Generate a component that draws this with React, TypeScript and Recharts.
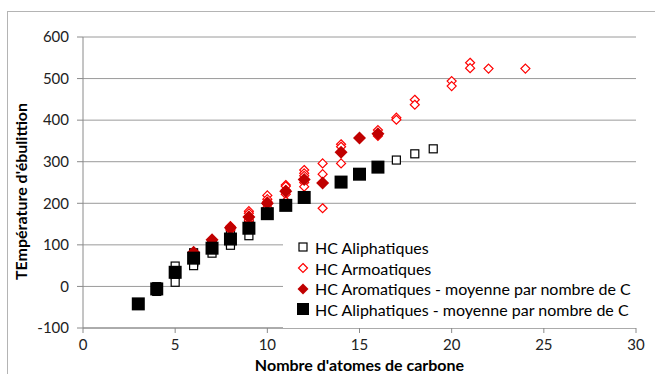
import React from 'react';
import { ScatterChart, Scatter, XAxis, YAxis, CartesianGrid, Legend, Label } from 'recharts';

const FONT = 'Lato, "Open Sans", sans-serif';

// Hydrocarbures aliphatiques : nombre de C / température d'ébullition (°C)
const aliphaticCarbons = [3, 4, 4, 5, 5, 5, 5, 6, 6, 6, 6, 6, 6, 6, 7, 7, 7, 7, 7, 8, 8, 8, 8, 9, 9, 9, 9, 10, 10, 11, 12, 12, 14, 14, 15, 16, 17, 18, 19];
const aliphaticTemps = [-42, -0.5, -12, 49, 36, 28, 10, 81, 72, 69, 63, 60, 58, 50, 101, 98, 92, 90, 80, 126, 118, 106, 99, 151, 146, 141, 122, 177, 174, 196, 216, 212, 254, 250, 270, 287, 304, 319, 331];

// Hydrocarbures aromatiques
const aromaticCarbons = [6, 7, 8, 8, 8, 8, 9, 9, 9, 9, 9, 9, 10, 10, 10, 10, 10, 10, 11, 11, 11, 11, 11, 12, 12, 12, 12, 12, 12, 13, 13, 13, 14, 14, 14, 15, 16, 16, 17, 17, 18, 18, 20, 20, 21, 21, 22, 24];
const aromaticTemps = [80, 111, 145, 144, 139, 136, 181, 176, 169, 165, 159, 152, 219, 210, 204, 197, 190, 180, 244, 241, 232, 222, 205, 280, 272, 266, 258, 250, 240, 296, 270, 188, 342, 336, 296, 357, 376, 362, 406, 401, 449, 437, 494, 482, 538, 525, 524, 524];

// Moyennes par nombre de C
const aromaticMeanCarbons = [6, 7, 8, 9, 10, 11, 12, 13, 14, 15, 16];
const aromaticMeanTemps = [82, 112, 141, 167, 200, 229, 257, 249, 323, 357, 367];

const aliphaticMeanCarbons = [3, 4, 5, 6, 7, 8, 9, 10, 11, 12, 14, 15, 16];
const aliphaticMeanTemps = [-42, -6, 34, 68, 92, 114, 140, 175, 195, 214, 251, 270, 287];

const xTicks = [0, 5, 10, 15, 20, 25, 30];
const yTicks = [-100, 0, 100, 200, 300, 400, 500, 600];

const seriesNames = [
  'HC Aliphatiques',
  'HC Armoatiques',
  'HC Aromatiques - moyenne par nombre de C',
  'HC Aliphatiques - moyenne par nombre de C',
];

const zip = (cs: number[], ts: number[]) => cs.map((c, i) => ({ c, t: ts[i] }));

const aliphaticData = zip(aliphaticCarbons, aliphaticTemps);
const aromaticData = zip(aromaticCarbons, aromaticTemps);
const aromaticMeanData = zip(aromaticMeanCarbons, aromaticMeanTemps);
const aliphaticMeanData = zip(aliphaticMeanCarbons, aliphaticMeanTemps);

const OpenSquare = (p: any) => (
  <rect x={p.cx - 4} y={p.cy - 4} width={8} height={8} fill="#fff" stroke="#000" strokeWidth={1.2} />
);
const OpenDiamond = (p: any) => (
  <path d={`M${p.cx},${p.cy - 4.5}L${p.cx + 4.5},${p.cy}L${p.cx},${p.cy + 4.5}L${p.cx - 4.5},${p.cy}Z`} fill="#fff" stroke="#ff0000" strokeWidth={1.2} />
);
const FilledDiamond = (p: any) => (
  <path d={`M${p.cx},${p.cy - 6.5}L${p.cx + 6.5},${p.cy}L${p.cx},${p.cy + 6.5}L${p.cx - 6.5},${p.cy}Z`} fill="#c00000" />
);
const FilledSquare = (p: any) => (
  <rect x={p.cx - 6.5} y={p.cy - 6.5} width={13} height={13} fill="#000" />
);

const legendSymbols = [
  <rect key="a" x={2} y={2} width={8} height={8} fill="#fff" stroke="#000" strokeWidth={1.2} />,
  <path key="b" d="M6,1.5L10.5,6L6,10.5L1.5,6Z" fill="#fff" stroke="#ff0000" strokeWidth={1.2} />,
  <path key="c" d="M6,0.5L11.5,6L6,11.5L0.5,6Z" fill="#c00000" />,
  <rect key="d" x={0} y={0} width={12} height={12} fill="#000" />,
];

const renderLegend = () => (
  <div style={{ background: '#fff', width: 360, height: 96, paddingTop: 5, boxSizing: 'border-box', fontFamily: FONT, fontSize: 16, color: '#000' }}>
    {seriesNames.map((name, i) => (
      <div key={name} style={{ display: 'flex', alignItems: 'center', height: 20.7, whiteSpace: 'nowrap' }}>
        <svg width={12} height={12} style={{ marginLeft: 14, marginRight: 6, flex: 'none' }}>
          {legendSymbols[i]}
        </svg>
        <span>{name}</span>
      </div>
    ))}
  </div>
);

const YTitle = (props: any) => {
  const vb = props.viewBox;
  const cy = vb.y + vb.height / 2 + 9;
  return (
    <text x={20} y={cy} transform={`rotate(-90, 20, ${cy})`} textAnchor="middle" dominantBaseline="central" fontFamily={FONT} fontWeight="bold" fontSize={16} fill="#000">
      TEmpérature d'ébulittion
    </text>
  );
};

const XTitle = (props: any) => {
  const vb = props.viewBox;
  return (
    <text x={vb.x + vb.width / 2} y={364} textAnchor="middle" dominantBaseline="central" fontFamily={FONT} fontWeight="bold" fontSize={16} fill="#000">
      Nombre d'atomes de carbone
    </text>
  );
};

export default function App() {
  return (
    <div style={{ position: 'absolute', left: 0, top: 0, width: 655, height: 374, overflow: 'hidden', background: '#fff' }}>
      <div style={{ position: 'absolute', left: 7, top: 11, width: 700, height: 400, border: '1px solid #b4b4b4' }} />
      <div style={{ position: 'absolute', left: 0, top: 0 }}>
        <ScatterChart width={655} height={374} margin={{ top: 37, right: 19, left: 0, bottom: 0 }}>
          <CartesianGrid horizontal vertical={false} stroke="#9a9a9a" strokeWidth={1} />
          <XAxis
            type="number"
            dataKey="c"
            domain={[0, 30]}
            ticks={xTicks}
            interval={0}
            height={46}
            stroke="#8a8a8a"
            tickSize={5}
            tickMargin={6}
            tick={{ fill: '#222', fontSize: 15, fontFamily: FONT }}
          >
            <Label content={XTitle} />
          </XAxis>
          <YAxis
            type="number"
            dataKey="t"
            domain={[-100, 600]}
            ticks={yTicks}
            interval={0}
            width={83}
            stroke="#8a8a8a"
            tickSize={6}
            tickMargin={8}
            tick={{ fill: '#222', fontSize: 15, fontFamily: FONT }}
          >
            <Label content={YTitle} />
          </YAxis>
          <Legend
            layout="vertical"
            align="center"
            verticalAlign="middle"
            content={renderLegend}
            wrapperStyle={{ left: 283, top: 232, width: 360, height: 96 }}
          />
          <Scatter name={seriesNames[0]} data={aliphaticData} shape={OpenSquare} isAnimationActive={false} />
          <Scatter name={seriesNames[1]} data={aromaticData} shape={OpenDiamond} isAnimationActive={false} />
          <Scatter name={seriesNames[2]} data={aromaticMeanData} shape={FilledDiamond} isAnimationActive={false} />
          <Scatter name={seriesNames[3]} data={aliphaticMeanData} shape={FilledSquare} isAnimationActive={false} />
        </ScatterChart>
      </div>
    </div>
  );
}
